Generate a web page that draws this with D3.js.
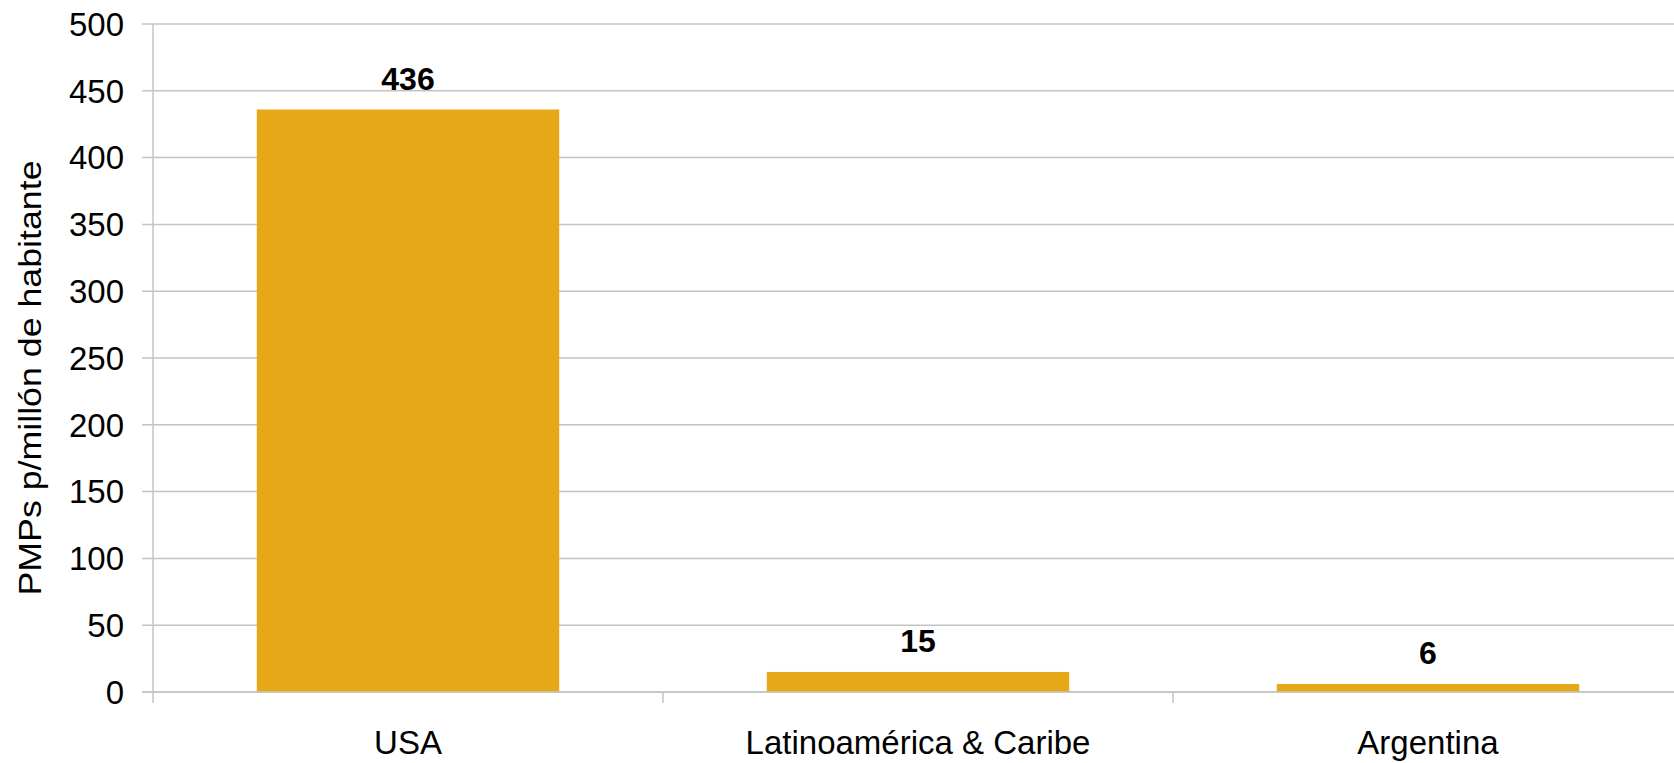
<!DOCTYPE html>
<html>
<head>
<meta charset="utf-8">
<script src="https://cdn.jsdelivr.net/npm/d3@7"></script>
<style>
  body { margin: 0; background: #fff; }
  svg { display: block; font-family: "Liberation Sans", Arial, sans-serif; }
</style>
</head>
<body>
<script>
// data
let categories = ["USA", "Latinoamérica & Caribe", "Argentina"];
let values = [436, 15, 6];
let yTicks = [0, 50, 100, 150, 200, 250, 300, 350, 400, 450, 500];
let yLabel = "PMPs p/millón de habitante";

let width = 1674, height = 763;
let margin = {top: 24, left: 153, bottom: 71};
let plotW = 1530; // runs off the right edge like the original
let plotH = height - margin.top - margin.bottom;

let svg = d3.select("body").append("svg")
  .attr("width", width)
  .attr("height", height);

let x = d3.scaleBand()
  .domain(categories)
  .range([margin.left, margin.left + plotW])
  .paddingInner(0.407)
  .paddingOuter(0.2035);

let y = d3.scaleLinear()
  .domain([0, 500])
  .range([margin.top + plotH, margin.top]);

let grid = "#c4c4c4";

// gridlines
svg.append("g")
  .selectAll("line")
  .data(yTicks)
  .join("line")
  .attr("x1", margin.left - 11)
  .attr("x2", margin.left + plotW)
  .attr("y1", d => y(d))
  .attr("y2", d => y(d))
  .attr("stroke", grid)
  .attr("stroke-width", 1.5);

// y tick labels
svg.append("g")
  .selectAll("text")
  .data(yTicks)
  .join("text")
  .attr("x", margin.left - 29)
  .attr("y", d => y(d))
  .attr("dy", "0.36em")
  .attr("text-anchor", "end")
  .attr("font-size", 33)
  .attr("fill", "#000")
  .text(d => d);

// bars
svg.append("g")
  .selectAll("rect")
  .data(values)
  .join("rect")
  .attr("x", (d, i) => x(categories[i]))
  .attr("y", d => y(d))
  .attr("width", x.bandwidth())
  .attr("height", d => y(0) - y(d))
  .attr("fill", "#e7a817");

// zero line on top of bars
svg.append("line")
  .attr("x1", margin.left - 11)
  .attr("x2", margin.left + plotW)
  .attr("y1", y(0))
  .attr("y2", y(0))
  .attr("stroke", grid)
  .attr("stroke-width", 1.5);

// y axis line
svg.append("line")
  .attr("x1", margin.left)
  .attr("x2", margin.left)
  .attr("y1", y(500))
  .attr("y2", y(0) + 11)
  .attr("stroke", grid)
  .attr("stroke-width", 1.5);

// category ticks (between bands)
let step = x.step();
svg.append("g")
  .selectAll("line")
  .data(categories)
  .join("line")
  .attr("x1", d => x(d) + x.bandwidth() / 2 + step / 2)
  .attr("x2", d => x(d) + x.bandwidth() / 2 + step / 2)
  .attr("y1", y(0))
  .attr("y2", y(0) + 11)
  .attr("stroke", grid)
  .attr("stroke-width", 1.5);

// category labels
svg.append("g")
  .selectAll("text")
  .data(categories)
  .join("text")
  .attr("x", d => x(d) + x.bandwidth() / 2)
  .attr("y", y(0) + 62)
  .attr("text-anchor", "middle")
  .attr("font-size", 33)
  .attr("fill", "#000")
  .text(d => d);

// value labels
svg.append("g")
  .selectAll("text")
  .data(values)
  .join("text")
  .attr("x", (d, i) => x(categories[i]) + x.bandwidth() / 2)
  .attr("y", d => y(d) - 20)
  .attr("text-anchor", "middle")
  .attr("font-size", 32)
  .attr("font-weight", "bold")
  .attr("fill", "#000")
  .text(d => d);

// y axis title
svg.append("text")
  .attr("transform", "translate(41,378) rotate(-90)")
  .attr("text-anchor", "middle")
  .attr("font-size", 32)
  .attr("textLength", 435)
  .attr("lengthAdjust", "spacingAndGlyphs")
  .attr("fill", "#000")
  .text(yLabel);
</script>
</body>
</html>
